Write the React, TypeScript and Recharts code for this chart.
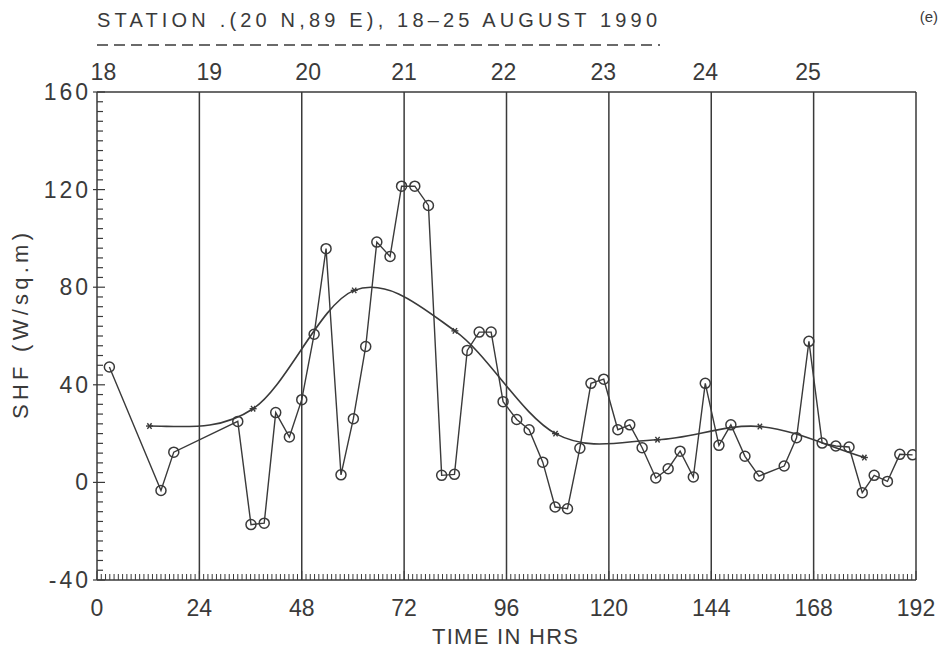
import React from "react";
import { ComposedChart, Line, XAxis, YAxis, ReferenceLine } from "recharts";

// Observed SHF (W/sq.m) vs time in hours
const obsHours = [2.9, 15.0, 18.0, 33.0, 36.1, 39.2, 41.9, 45.1, 48.0, 50.9, 53.7, 57.2, 60.1, 63.0, 65.6, 68.7, 71.4, 74.5, 77.7, 80.8, 83.8, 86.8, 89.6, 92.4, 95.2, 98.4, 101.3, 104.5, 107.4, 110.3, 113.2, 115.8, 118.8, 122.1, 124.9, 127.8, 131.0, 133.9, 136.7, 139.8, 142.6, 145.8, 148.6, 151.9, 155.2, 161.1, 164.0, 166.9, 170.0, 173.2, 176.3, 179.4, 182.2, 185.3, 188.2, 191.2];
const obsValues = [47.3, -3.3, 12.4, 25.0, -17.3, -16.7, 28.6, 18.6, 33.9, 60.7, 95.8, 3.1, 26.1, 55.7, 98.5, 92.6, 121.4, 121.4, 113.5, 2.9, 3.3, 54.1, 61.6, 61.6, 33.1, 25.8, 21.6, 8.3, -10.1, -10.8, 14.0, 40.6, 42.3, 21.6, 23.6, 14.2, 1.8, 5.6, 12.8, 2.2, 40.6, 15.2, 23.6, 10.7, 2.6, 6.7, 18.3, 57.8, 16.1, 14.9, 14.5, -4.2, 2.9, 0.4, 11.5, 11.3];

// Smoothed curve (asterisk markers)
const smoothHours = [12.3, 36.6, 60.3, 83.9, 107.5, 131.4, 155.4, 179.9];
const smoothValues = [23.1, 30.2, 78.7, 62.1, 20.0, 17.5, 22.9, 10.2];

// Axis ticks
const xMajorTicks = [0, 24, 48, 72, 96, 120, 144, 168, 192];
const yMajorTicks = [-40, 0, 40, 80, 120, 160];
const gridHours = [24, 48, 72, 96, 120, 144, 168];
const dayLabels = ["18", "19", "20", "21", "22", "23", "24", "25"];
const dayLabelHours = [1.5, 26.3, 49.5, 72.0, 95.3, 118.7, 142.6, 166.7];

const obsData = obsHours.map((t, i) => ({ t, v: obsValues[i] }));
const smoothData = smoothHours.map((t, i) => ({ t, s: smoothValues[i] }));

const xMinorTicks = Array.from({ length: 193 }, (_, i) => i);
const yMinorTicks = Array.from({ length: 51 }, (_, i) => -40 + i * 4);

const INK = "#3a3a3a";
const FONT = "'Liberation Sans Narrow', 'Liberation Sans', 'DejaVu Sans', sans-serif";

// Hermite (Catmull-Rom style) curve factory: flat start, secant end
const hermiteSpline = (context: any) => {
  let xs: number[] = [];
  let ys: number[] = [];
  return {
    areaStart() {},
    areaEnd() {},
    lineStart() {
      xs = [];
      ys = [];
    },
    point(x: number, y: number) {
      xs.push(+x);
      ys.push(+y);
    },
    lineEnd() {
      const n = xs.length;
      if (!n) return;
      context.moveTo(xs[0], ys[0]);
      if (n === 1) return;
      if (n === 2) {
        context.lineTo(xs[1], ys[1]);
        return;
      }
      const N = n - 1;
      const m: number[] = new Array(n).fill(0);
      m[0] = 0;
      for (let i = 1; i < N; i++) m[i] = (ys[i + 1] - ys[i - 1]) / (xs[i + 1] - xs[i - 1]);
      m[N] = (ys[N] - ys[N - 1]) / (xs[N] - xs[N - 1]);
      for (let i = 0; i < N; i++) {
        const hi = xs[i + 1] - xs[i];
        context.bezierCurveTo(
          xs[i] + hi / 3,
          ys[i] + (m[i] * hi) / 3,
          xs[i + 1] - hi / 3,
          ys[i + 1] - (m[i + 1] * hi) / 3,
          xs[i + 1],
          ys[i + 1]
        );
      }
    },
  };
};

const YTick = (props: any) => {
  const { x, y, payload } = props;
  const v = payload.value;
  const major = yMajorTicks.includes(v);
  return (
    <g>
      <line x1={x} x2={x + (major ? 8 : 6)} y1={y} y2={y} stroke={INK} strokeWidth={1.2} />
      {major && <line x1={x - 4} x2={x} y1={y} y2={y} stroke={INK} strokeWidth={1.2} />}
      {major && (
        <text x={x - 6} y={y} dy={8} textAnchor="end" fontSize={23} fill={INK} fontFamily={FONT} letterSpacing={3}>
          {v}
        </text>
      )}
    </g>
  );
};

const XTick = (props: any) => {
  const { x, y, payload } = props;
  const v = payload.value;
  const major = xMajorTicks.includes(v);
  return (
    <g>
      <line x1={x} x2={x} y1={y} y2={y - (major ? 9 : 6)} stroke={INK} strokeWidth={1} />
      {major && (
        <text x={x} y={y + 36} textAnchor="middle" fontSize={23} fill={INK} fontFamily={FONT}>
          {v}
        </text>
      )}
    </g>
  );
};

const CircleDot = (props: any) => {
  const { cx, cy } = props;
  if (cx == null || cy == null) return null;
  return <circle cx={cx} cy={cy} r={5} fill="none" stroke={INK} strokeWidth={1.5} />;
};

const StarDot = (props: any) => {
  const { cx, cy } = props;
  if (cx == null || cy == null) return null;
  const r = 3.5;
  return (
    <g stroke={INK} strokeWidth={1.4}>
      <line x1={cx - r} x2={cx + r} y1={cy} y2={cy} />
      <line x1={cx - r * 0.6} x2={cx + r * 0.6} y1={cy - r * 0.8} y2={cy + r * 0.8} />
      <line x1={cx - r * 0.6} x2={cx + r * 0.6} y1={cy + r * 0.8} y2={cy - r * 0.8} />
    </g>
  );
};

export default function App() {
  return (
    <div style={{ position: "absolute", left: 0, top: 0, width: 946, height: 656, background: "#fff" }}>
      <ComposedChart
        width={946}
        height={656}
        data={obsData}
        margin={{ top: 92, right: 30, bottom: 16, left: 0 }}
      >
        <XAxis
          xAxisId="bottom"
          dataKey="t"
          type="number"
          domain={[0, 192]}
          ticks={xMinorTicks}
          interval={0}
          tick={<XTick />}
          tickLine={false}
          tickSize={0}
          tickMargin={0}
          axisLine={{ stroke: INK, strokeWidth: 1.5 }}
          height={60}
          allowDataOverflow
        />
        <YAxis
          type="number"
          domain={[-40, 160]}
          ticks={yMinorTicks}
          interval={0}
          tick={<YTick />}
          tickLine={false}
          tickSize={0}
          tickMargin={0}
          axisLine={{ stroke: INK, strokeWidth: 1.5 }}
          width={97}
          allowDataOverflow
        />
        {gridHours.map((h) => (
          <ReferenceLine key={h} xAxisId="bottom" x={h} stroke={INK} strokeWidth={1.5} />
        ))}
        {dayLabelHours.map((h, i) => (
          <ReferenceLine
            key={"d" + i}
            xAxisId="bottom"
            x={h}
            stroke="#fff"
            strokeOpacity={0}
            label={{
              value: dayLabels[i],
              position: "top",
              offset: 12,
              fontSize: 23,
              fill: INK,
              fontFamily: FONT,
            }}
          />
        ))}
        <ReferenceLine xAxisId="bottom" x={192} stroke={INK} strokeWidth={1.5} />
        <ReferenceLine xAxisId="bottom" y={160} stroke={INK} strokeWidth={1.5} />
        <Line
          xAxisId="bottom"
          data={obsData}
          dataKey="v"
          type="linear"
          stroke={INK}
          strokeWidth={1.4}
          dot={<CircleDot />}
          activeDot={false}
          isAnimationActive={false}
        />
        <Line
          xAxisId="bottom"
          data={smoothData}
          dataKey="s"
          type={hermiteSpline as any}
          stroke={INK}
          strokeWidth={1.6}
          dot={<StarDot />}
          activeDot={false}
          isAnimationActive={false}
        />
      </ComposedChart>
      <svg
        width={946}
        height={656}
        style={{ position: "absolute", left: 0, top: 0, pointerEvents: "none" }}
      >
        <text x={97} y={27} fontSize={20} fill={INK} fontFamily={FONT} textLength={560} lengthAdjust="spacing">
          STATION .(20 N,89 E), 18–25 AUGUST 1990
        </text>
        <line x1={97} x2={660} y1={45} y2={45} stroke={INK} strokeWidth={1.5} strokeDasharray="11 6" />
        <text x={938} y={22} fontSize={15} fill={INK} fontFamily={FONT} textAnchor="end">
          (e)
        </text>
        <text
          x={0}
          y={0}
          transform="translate(28,326) rotate(-90)"
          textAnchor="middle"
          fontSize={22}
          fill={INK}
          fontFamily={FONT}
          textLength={186}
          lengthAdjust="spacing"
        >
          SHF  (W/sq.m)
        </text>
        <text
          x={505}
          y={644}
          textAnchor="middle"
          fontSize={22}
          fill={INK}
          fontFamily={FONT}
          textLength={146}
          lengthAdjust="spacing"
        >
          TIME  IN  HRS
        </text>
      </svg>
    </div>
  );
}
